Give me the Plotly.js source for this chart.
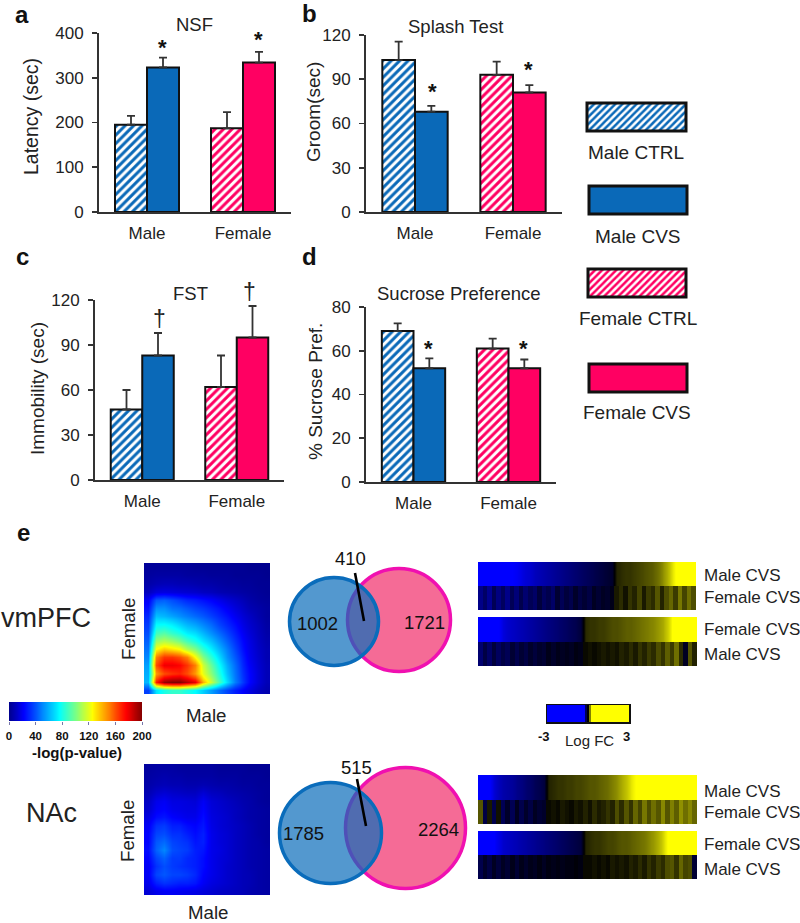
<!DOCTYPE html>
<html>
<head>
<meta charset="utf-8">
<script src="https://cdn.plot.ly/plotly-3.0.1.min.js"></script>
<style>html,body{margin:0;padding:0;background:#fff}#c{width:800px;height:923px}</style>
</head>
<body>
<div id="c"></div>
<script>
// ---------- bar data ----------
const groups = ['Male', 'Female'];
const nsfCtrl = [195, 187], nsfCvs = [323, 334], nsfCtrlErr = [20, 36], nsfCvsErr = [22, 24];
const splashCtrl = [103, 93], splashCvs = [68, 81], splashCtrlErr = [12.5, 9], splashCvsErr = [4, 5];
const fstCtrl = [47, 62], fstCvs = [83, 95], fstCtrlErr = [13, 21], fstCvsErr = [15, 21];
const sucroseCtrl = [69, 61], sucroseCvs = [52, 52], sucroseCtrlErr = [3.5, 4.5], sucroseCvsErr = [4.5, 4];
const legendNames = ['Male CTRL', 'Male CVS', 'Female CTRL', 'Female CVS'];

// ---------- venn labels ----------
const vennVmpfc = ['1002', '410', '1721'];
const vennNac = ['1785', '515', '2264'];

// ---------- RRHO maps (-log p), rows from bottom to top ----------
const rrhoVmpfc = [
 [35,70,80,85,85,80,75,65,55,45,36,28,22,16,10,6],
 [60,170,195,200,200,190,180,140,115,90,68,48,34,22,14,8],
 [58,145,160,165,168,160,145,120,102,82,62,46,32,22,14,8],
 [55,160,178,178,175,165,150,115,95,76,58,44,30,20,13,8],
 [50,150,165,165,160,150,125,100,84,68,52,40,28,18,12,7],
 [46,125,135,130,125,110,100,84,72,60,48,36,25,17,11,7],
 [42,105,110,105,98,88,80,70,62,52,42,32,23,16,10,6],
 [38,88,92,85,80,72,68,60,52,44,36,28,20,14,9,5],
 [34,75,76,72,66,60,56,50,44,36,30,24,17,12,8,4],
 [30,62,60,56,52,48,44,40,35,30,25,19,14,10,6,3],
 [25,52,52,46,44,40,36,33,29,25,20,15,11,7,5,3],
 [20,40,42,38,34,30,28,25,22,18,14,11,8,5,3,2],
 [9,15,16,15,14,13,12,10,9,7,6,5,4,3,2,1],
 [5,7,8,8,7,7,6,5,5,4,3,3,2,2,1,1],
 [3,4,4,4,4,3,3,3,2,2,2,1,1,1,1,0],
 [2,2,2,2,2,2,1,1,1,1,1,1,1,0,0,0]
];
const rrhoNac = [
 [14,18,20,20,19,18,17,15,13,11,10,9,8,6,5,4],
 [18,28,32,30,28,28,26,20,16,14,12,10,8,7,5,4],
 [20,36,40,36,36,34,30,22,18,15,12,10,8,7,5,4],
 [20,32,38,34,32,30,28,24,18,15,12,10,8,6,5,4],
 [22,36,42,34,34,30,28,24,18,15,13,10,8,6,5,4],
 [24,42,50,38,36,34,28,26,18,16,13,10,8,6,5,4],
 [22,40,44,36,34,32,26,28,18,15,13,10,8,6,5,3],
 [22,36,38,32,32,28,24,28,18,15,13,10,8,6,4,3],
 [20,32,34,28,28,24,22,26,17,14,12,10,8,6,4,3],
 [16,24,26,22,20,18,18,24,16,14,12,9,7,5,4,3],
 [12,20,22,18,17,16,16,22,15,13,11,9,7,5,4,3],
 [10,18,20,16,16,15,14,20,14,12,10,8,6,5,3,2],
 [7,12,14,12,11,10,10,14,10,9,7,6,5,4,3,2],
 [5,7,8,7,7,6,6,7,6,5,5,4,3,3,2,2],
 [4,5,6,5,5,4,4,4,4,3,3,3,2,2,2,1],
 [3,4,4,4,3,3,3,3,3,2,2,2,2,1,1,1]
];
const jetValues = [0,10,20,30,40,50,60,70,80,90,100,110,120,130,140,150,160,170,180,190,200];

// ---------- fold-change strips, one row per group ----------
const vmpfcA1 = [-3,-3,-3,-3,-3,-3,-3,-3,-2.9,-2.7,-2.5,-2.4,-2.2,-2.1,-2,-1.9,-1.8,-1.7,-1.6,-1.5,-1.4,-1.3,-1.2,-1.1,-1,-0.9,-0.8,-0.7,-0.6,-0.5,0.4,0.5,0.6,0.6,0.7,0.8,0.9,1,1.1,1.3,1.6,2,2.5,3,3,3,3,3];
const vmpfcA2 = [-1.6,-1.2,-1.7,-1.0,-1.5,-1.1,-1.6,-1.0,-1.4,-0.9,-1.3,-1.0,-1.2,-0.7,-1.1,-0.9,-1.2,-0.6,-1.0,-0.7,-0.9,-0.5,-0.8,-0.6,-0.8,-0.4,-0.6,-0.4,-0.5,-0.3,0.3,0.5,0.2,0.6,0.4,0.8,0.3,0.7,0.5,1.0,0.4,0.9,1.2,0.7,1.4,0.8,1.3,0.9];
const vmpfcB1 = [-3,-3,-3,-3,-3,-2.6,-2.4,-2.3,-2.2,-2.1,-2,-1.9,-1.8,-1.7,-1.6,-1.5,-1.4,-1.3,-1.2,-1.1,-1,-0.9,-0.7,0.5,0.6,0.6,0.7,0.7,0.8,0.9,0.9,1,1.1,1.1,1.2,1.3,1.4,1.5,1.6,1.8,2,2.4,3,3,3,3,3,3];
const vmpfcB2 = [-1.3,-0.8,-1.2,-0.7,-1.1,-0.8,-1,-0.6,-0.9,-0.6,-0.8,-0.5,-0.7,-0.5,-0.6,-0.3,-0.5,-0.3,-0.4,-0.3,-0.4,-0.2,-0.3,0.1,0.2,0.1,0.2,0.3,0.2,0.3,0.2,0.4,0.3,0.5,0.3,0.6,0.4,0.7,0.5,0.9,0.6,1.1,0.7,1.3,0.5,-0.4,1.0,0.4];
const nacA1 = [-3,-3,-3,-2.5,-2.2,-2,-1.9,-1.8,-1.6,-1.5,-1.3,-1.2,-1,-0.9,-0.7,0.4,0.5,0.6,0.6,0.7,0.7,0.8,0.8,0.9,1,1,1.1,1.2,1.3,1.5,1.7,2,2.3,2.7,3,3,3,3,3,3,3,3,3,3,3,3,3,3];
const nacA2 = [1.0,-0.8,0.3,-0.9,0.2,-1,-0.5,-1,-0.4,-0.9,-0.5,-0.8,-0.4,-0.6,-0.5,0.1,0.2,0.1,0.3,0.2,0.1,0.3,0.2,0.4,0.2,0.5,0.3,0.4,0.6,0.4,0.9,0.5,1,0.6,1.2,0.8,1.4,0.9,1.3,1,1.6,1,1.5,1.1,1.7,1.3,1.6,1.2];
const nacB1 = [-3,-3,-3,-3,-2.7,-2.4,-2.3,-2.2,-2.1,-2,-1.9,-1.8,-1.7,-1.6,-1.5,-1.4,-1.3,-1.2,-1.1,-1,-0.9,-0.8,-0.7,0.4,0.5,0.6,0.6,0.7,0.8,0.8,0.9,1,1,1.1,1.2,1.3,1.4,1.6,1.8,2.1,2.5,3,3,3,3,3,3,3];
const nacB2 = [-0.9,-0.5,-0.8,-0.4,-0.7,-0.4,-0.6,-0.3,-0.6,-0.3,-0.5,-0.3,-0.4,-0.2,-0.4,-0.2,-0.3,-0.2,-0.3,-0.2,-0.2,-0.1,-0.2,0.1,0.1,0.2,0.1,0.2,0.1,0.3,0.2,0.3,0.2,0.4,0.3,0.5,0.3,0.6,0.4,0.7,0.5,0.9,1,0.6,1.2,0.8,0.9,-0.6];
const logFcKey = [-3,-3,-3,-3,-3,-3,-3,-3,-3,-3,-3,-3,-3,-3,-3,-3,-3,-3,-3,-1,0,1.5,3,3,3,3,3,3,3,3,3,3,3,3,3,3,3,3,3,3,3];

// ---------- styling ----------
const W = 800, H = 923;
const FONT = '"Liberation Sans", Arial, sans-serif';
const INK = '#222222', BLUE = '#0a69b8', PINK = '#ff0062';
const jet = [[0,'#00008f'],[0.11,'#0000ff'],[0.375,'#00ffff'],[0.625,'#ffff00'],[0.875,'#ff0000'],[1,'#800000']];
const byk = [[0,'#0000ff'],[0.5,'#000000'],[1,'#ffff00']];
const px = x => x / W, py = y => 1 - y / H;

const data = [];
const layout = {
  width: W, height: H, margin: {l:0,r:0,t:0,b:0}, paper_bgcolor:'#fff', plot_bgcolor:'rgba(0,0,0,0)',
  showlegend:false, barmode:'group', bargap:1/3, bargroupgap:0, hovermode:false,
  annotations:[], shapes:[], font:{family:FONT,color:INK}
};
let axisN = 0;
function axes(x0, x1, y0, y1, xo, yo) {
  axisN++;
  const xk = axisN === 1 ? 'xaxis' : 'xaxis' + axisN, yk = axisN === 1 ? 'yaxis' : 'yaxis' + axisN;
  const xr = axisN === 1 ? 'x' : 'x' + axisN, yr = axisN === 1 ? 'y' : 'y' + axisN;
  layout[xk] = Object.assign({domain:[px(x0),px(x1)], anchor:yr, showgrid:false, zeroline:false, showticklabels:false, ticks:''}, xo);
  layout[yk] = Object.assign({domain:[py(y1),py(y0)], anchor:xr, showgrid:false, zeroline:false, showticklabels:false, ticks:''}, yo);
  return {xaxis:xr, yaxis:yr};
}
function text(t, x, y, size, o) {
  layout.annotations.push(Object.assign({text:t, x:px(x), y:py(y), xref:'paper', yref:'paper', showarrow:false,
    xanchor:'center', yanchor:'middle', font:{family:FONT, size:size, color:INK}}, o||{}));
}
function bold(t, x, y, size) { text('<b>'+t+'</b>', x, y, size, {font:{family:FONT,size:size,color:'#111'}}); }

function barPanel(box, ymax, dtick, ctrl, cvs, ctrlErr, cvsErr) {
  const a = axes(box[0], box[1], box[2], box[3],
    {type:'category', range:[-0.5,1.5], showline:true, linecolor:'#333', linewidth:2, showticklabels:true,
     tickfont:{family:FONT,size:17,color:INK}, ticklabelstandoff:5, fixedrange:true},
    {range:[0,ymax], dtick:dtick, showline:true, linecolor:'#333', linewidth:2, ticks:'outside', ticklen:5, tickwidth:1.6,
     tickcolor:'#333', showticklabels:true, tickfont:{family:FONT,size:17,color:INK}, ticklabelstandoff:5, fixedrange:true});
  const err = e => ({type:'data', array:e, arrayminus:[0,0], symmetric:false, visible:true, color:'#333', thickness:1.8, width:4});
  data.push(Object.assign({type:'bar', name:'CTRL', x:groups, y:ctrl, error_y:err(ctrlErr), cliponaxis:false,
    marker:{color:'#fff', line:{color:'#111',width:2}, pattern:{shape:'/', fgcolor:[BLUE,PINK], bgcolor:'#fff', size:6, solidity:0.5}}}, a));
  data.push(Object.assign({type:'bar', name:'CVS', x:groups, y:cvs, error_y:err(cvsErr), cliponaxis:false,
    marker:{color:[BLUE,PINK], line:{color:'#111',width:2}}}, a));
}
function swatch(x0, x1, y0, y1, color, striped) {
  // a 3 px clear band round the box keeps its heavy outline inside the subplot
  const padX = 3 / (x1 - x0), padY = 3 / (y1 - y0);
  const a = axes(x0 - 3, x1 + 3, y0 - 3, y1 + 3, {range:[-padX,1+padX], fixedrange:true}, {range:[-0.5-padY,0.5+padY], fixedrange:true});
  const marker = {color:striped?'#fff':color, line:{color:'#111',width:3}};
  if (striped) marker.pattern = {shape:'/', fgcolor:color, bgcolor:'#fff', size:5, solidity:0.5};
  data.push(Object.assign({type:'bar', orientation:'h', x:[1], y:[0], width:[1], cliponaxis:false, marker:marker}, a));
}
function rrho(box, z) {
  const a = axes(box[0], box[1], box[2], box[3], {fixedrange:true}, {fixedrange:true});
  data.push(Object.assign({type:'heatmap', z:z, zmin:0, zmax:200, colorscale:jet, showscale:false, zsmooth:'best'}, a));
}
function strip(x0, x1, y0, y1, top, bottom) {
  const mid = Math.round((y0 + y1) / 2);
  // the lower row is drawn first and starts 1 px higher, so no white seam shows between rows
  const b = axes(x0, x1, mid - 1, y1, {range:[-0.5,bottom.length-0.5], fixedrange:true}, {range:[-0.5,0.5], fixedrange:true});
  data.push(Object.assign({type:'heatmap', z:[bottom], zmin:-3, zmax:3, colorscale:byk, showscale:false}, b));
  const a = axes(x0, x1, y0, mid, {fixedrange:true}, {fixedrange:true});
  data.push(Object.assign({type:'heatmap', z:[top,top], zmin:-3, zmax:3, colorscale:byk, showscale:false, zsmooth:'best'}, a));
}
function venn(b, p, lineSeg, labels, pos) {
  layout.shapes.push({type:'circle', xref:'paper', yref:'paper', x0:px(p[0]), x1:px(p[1]), y0:py(p[3]), y1:py(p[2]),
    fillcolor:'#f56b96', line:{color:'#f010b0', width:3.5}});
  layout.shapes.push({type:'circle', xref:'paper', yref:'paper', x0:px(b[0]), x1:px(b[1]), y0:py(b[3]), y1:py(b[2]),
    fillcolor:'rgba(10,108,187,0.7)', line:{color:'#0a6cbb', width:3.5}});
  layout.shapes.push({type:'line', xref:'paper', yref:'paper', x0:px(lineSeg[0]), y0:py(lineSeg[1]), x1:px(lineSeg[2]), y1:py(lineSeg[3]),
    line:{color:'#000', width:2.6}});
  labels.forEach((t,i) => text(t, pos[i][0], pos[i][1], 18.5, {font:{family:FONT,size:18.5,color:'#111'}}));
}

// ---------- bar panels ----------
barPanel([99,291,33,212], 400, 100, nsfCtrl, nsfCvs, nsfCtrlErr, nsfCvsErr);
barPanel([366,562,35,212], 120, 30, splashCtrl, splashCvs, splashCtrlErr, splashCvsErr);
barPanel([95,284,300,480], 120, 30, fstCtrl, fstCvs, fstCtrlErr, fstCvsErr);
barPanel([366,556,307,482], 80, 20, sucroseCtrl, sucroseCvs, sucroseCtrlErr, sucroseCvsErr);

text('NSF',194,25,18.5); text('Splash Test',456,27,18.5); text('FST',190,293,18.5); text('Sucrose Preference',459,293,18.5);
text('Latency (sec)',31,117,19.5,{textangle:-90}); text('Groom(sec)',313,112,19,{textangle:-90});
text('Immobility (sec)',37,389,19,{textangle:-90}); text('% Sucrose Pref.',315,392,19,{textangle:-90});
[[162,47],[258,40],[432,92],[528,69],[428,349],[523,349]].forEach(p => bold('*',p[0],p[1],22));
[[159,319],[249,292]].forEach(p => text('†',p[0],p[1],23));
bold('a',22,15,24); bold('b',309,14,24); bold('c',22,257,24); bold('d',309,257,24); bold('e',23,532,24);

// ---------- group key ----------
swatch(587,686,103,131,BLUE,true);
swatch(589,687,186,214,BLUE,false);
swatch(588,686,269,297,PINK,true);
swatch(589,687,364,392,PINK,false);
text(legendNames[0],636,153,19); text(legendNames[1],638,236,19); text(legendNames[2],638,318,19); text(legendNames[3],637,413,19);

// ---------- panel e ----------
rrho([144,270,563,694], rrhoVmpfc);
rrho([144,270,764,895], rrhoNac);
text('vmPFC',46,618,27); text('NAc',51,813,27);
text('Female',128,629,18.7,{textangle:-90}); text('Male',206,715,18.7);
text('Female',127,831,18.7,{textangle:-90}); text('Male',208,912,18.7);

// jet key
(function(){
  const a = axes(9,142,702,721,
    {range:[0,200], dtick:40, ticks:'outside', ticklen:3, tickwidth:1, tickcolor:'#7777aa', showticklabels:true,
     tickfont:{family:FONT,size:11.5,color:'#111',weight:'bold'}, ticklabelstandoff:1, fixedrange:true},
    {range:[0,1], fixedrange:true});
  data.push(Object.assign({type:'heatmap', x:jetValues, y:[0,1], z:[jetValues,jetValues], zmin:0, zmax:200, colorscale:jet, showscale:false, zsmooth:'best'}, a));
})();
bold('-log(p-value)',77,752,15);

// venn diagrams
venn([289.5,378.5,577.5,665.5],[347.5,450.5,568.5,671.5],[355,573,364,621],vennVmpfc,[[317,623],[350,558],[424,622]]);
venn([279.5,381.5,782.5,883.5],[345.5,465.5,767.5,888.5],[357,779,366,826],vennNac,[[303,833],[356,767],[438,829]]);

// strips
strip(478,696,562,610,vmpfcA1,vmpfcA2);
strip(478,697,617,666,vmpfcB1,vmpfcB2);
strip(478,697,775,824,nacA1,nacA2);
strip(478,697,831,879,nacB1,nacB2);
[['Male CVS',575],['Female CVS',597],['Female CVS',629],['Male CVS',654],['Male CVS',791],['Female CVS',812],['Female CVS',844],['Male CVS',869]]
  .forEach(l => text(l[0],702,l[1],17,{xanchor:'left'}));

// log FC key
(function(){
  const a = axes(547,629,705,722,
    {range:[-0.5,logFcKey.length-0.5], showline:true, mirror:true, linecolor:'#111', linewidth:1.5, fixedrange:true},
    {range:[-0.5,0.5], showline:true, mirror:true, linecolor:'#111', linewidth:1.5, fixedrange:true});
  data.push(Object.assign({type:'heatmap', z:[logFcKey], zmin:-3, zmax:3, colorscale:byk, showscale:false}, a));
})();
bold('-3',544,736,13); bold('3',626,736,13); text('Log FC',589,740,15);

Plotly.newPlot('c', data, layout, {staticPlot:true, displayModeBar:false});
</script>
</body>
</html>
